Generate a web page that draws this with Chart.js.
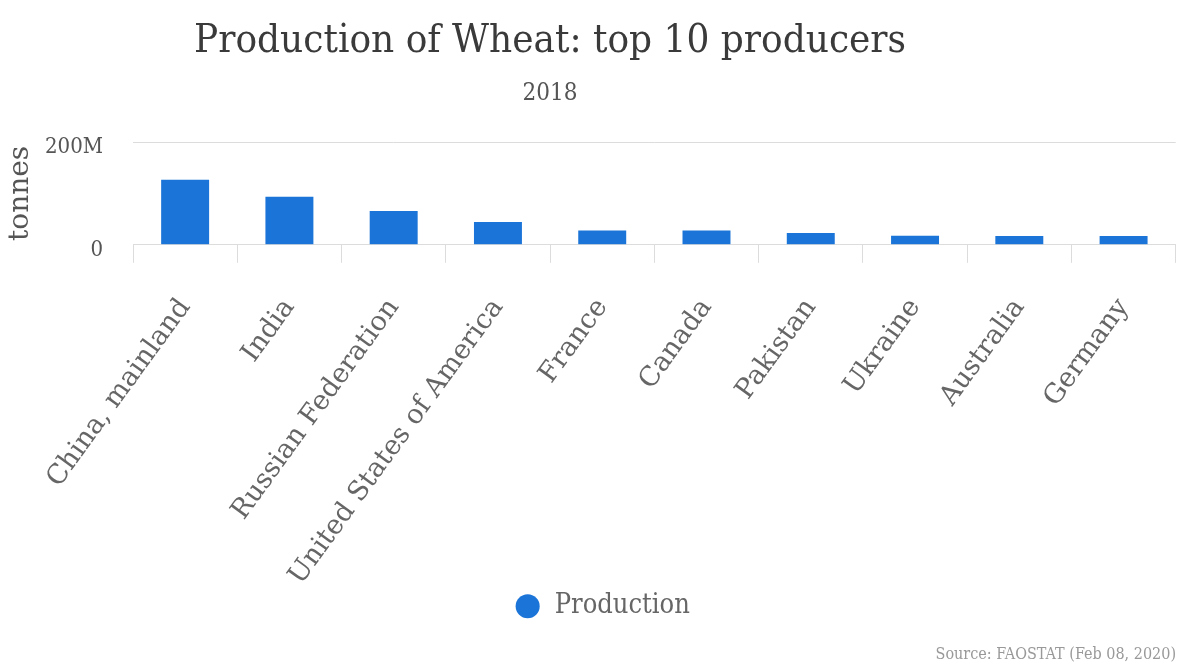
<!DOCTYPE html>
<html>
<head>
<meta charset="utf-8">
<script src="https://cdn.jsdelivr.net/npm/chart.js@4.4.0/dist/chart.umd.min.js"></script>
<style>
  html, body { margin: 0; padding: 0; background: #fff; }
  #wrap { width: 1180px; height: 666px; }
</style>
</head>
<body>
<div id="wrap"><canvas id="wheatChart" width="1180" height="666"></canvas></div>
<script>
// values (tonnes)
const countries = ['China, mainland', 'India', 'Russian Federation', 'United States of America',
    'France', 'Canada', 'Pakistan', 'Ukraine', 'Australia', 'Germany'];
const production = [126.5e6, 93.5e6, 66e6, 44.5e6, 28e6, 28e6, 23e6, 17.5e6, 17e6, 17e6];
const yTicks = [0, 200e6];
const yTickLabels = ['0', '200M'];

const chartTitle = 'Production of Wheat: top 10 producers';
const chartSubtitle = '2018';
const sourceNote = 'Source: FAOSTAT (Feb 08, 2020)';

const serif = "'DejaVu Serif', serif";
const serifCond = "'DejaVu Serif Condensed', 'DejaVu Serif', serif";

// title + year sit a bit left of the canvas centre in the original, so draw them here
const headerPlugin = {
    id: 'header',
    afterLayout(chart) {
        // legend is a little right of centre too
        chart.legend.left += 14;
        chart.legend.right += 14;
    },
    afterDraw(chart) {
        const ctx = chart.ctx;
        ctx.save();
        ctx.textAlign = 'center';
        ctx.textBaseline = 'alphabetic';
        ctx.fillStyle = '#3a3a3a';
        ctx.font = "40px " + serifCond;
        ctx.fillText(chartTitle, 550, 52);
        ctx.fillStyle = '#555';
        ctx.font = "24px " + serifCond;
        ctx.fillText(chartSubtitle, 550, 100);
        ctx.restore();
    }
};

const ctx = document.getElementById('wheatChart').getContext('2d');
const chart = new Chart(ctx, {
    type: 'bar',
    data: {
        labels: countries,
        datasets: [{
            label: 'Production',
            data: production,
            backgroundColor: '#1b74d8',
            borderWidth: 0,
            barPercentage: 0.46,
            categoryPercentage: 1
        }]
    },
    options: {
        responsive: false,
        animation: false,
        layout: { padding: { top: 142, right: 4, left: 0, bottom: 0 } },
        scales: {
            x: {
                grid: {
                    display: true,
                    drawOnChartArea: false,
                    drawTicks: true,
                    tickLength: 18,
                    color: '#dcdcdc'
                },
                border: { display: true, color: '#dcdcdc', width: 1 },
                ticks: {
                    autoSkip: false,
                    minRotation: 54,
                    maxRotation: 54,
                    padding: 30,
                    color: '#666',
                    font: { family: serif, size: 27 }
                },
                afterFit(scale) { scale.height = 338; }
            },
            y: {
                min: 0,
                max: 200e6,
                afterBuildTicks(scale) {
                    scale.ticks = yTicks.map(v => ({ value: v }));
                },
                grid: { color: '#dcdcdc', drawTicks: false },
                border: { display: false },
                ticks: {
                    padding: 30,
                    labelOffset: 5,
                    color: '#555',
                    font: { family: serifCond, size: 22 },
                    callback: (v) => yTickLabels[yTicks.indexOf(v)]
                },
                title: {
                    display: true,
                    text: 'tonnes',
                    color: '#555',
                    font: { family: serif, size: 28 },
                    padding: { top: 4, bottom: 0 }
                },
                afterFit(scale) { scale.width = 133; }
            }
        },
        plugins: {
            legend: {
                position: 'bottom',
                labels: {
                    usePointStyle: true,
                    pointStyle: 'circle',
                    boxWidth: 27,
                    boxHeight: 17,
                    padding: 10,
                    color: '#666',
                    font: { family: serifCond, size: 27 }
                }
            },
            subtitle: {
                display: true,
                position: 'bottom',
                align: 'end',
                text: sourceNote,
                color: '#999',
                font: { family: serifCond, size: 16 },
                padding: { top: 15, bottom: 2 }
            },
            tooltip: { enabled: false }
        }
    },
    plugins: [headerPlugin]
});
</script>
</body>
</html>
